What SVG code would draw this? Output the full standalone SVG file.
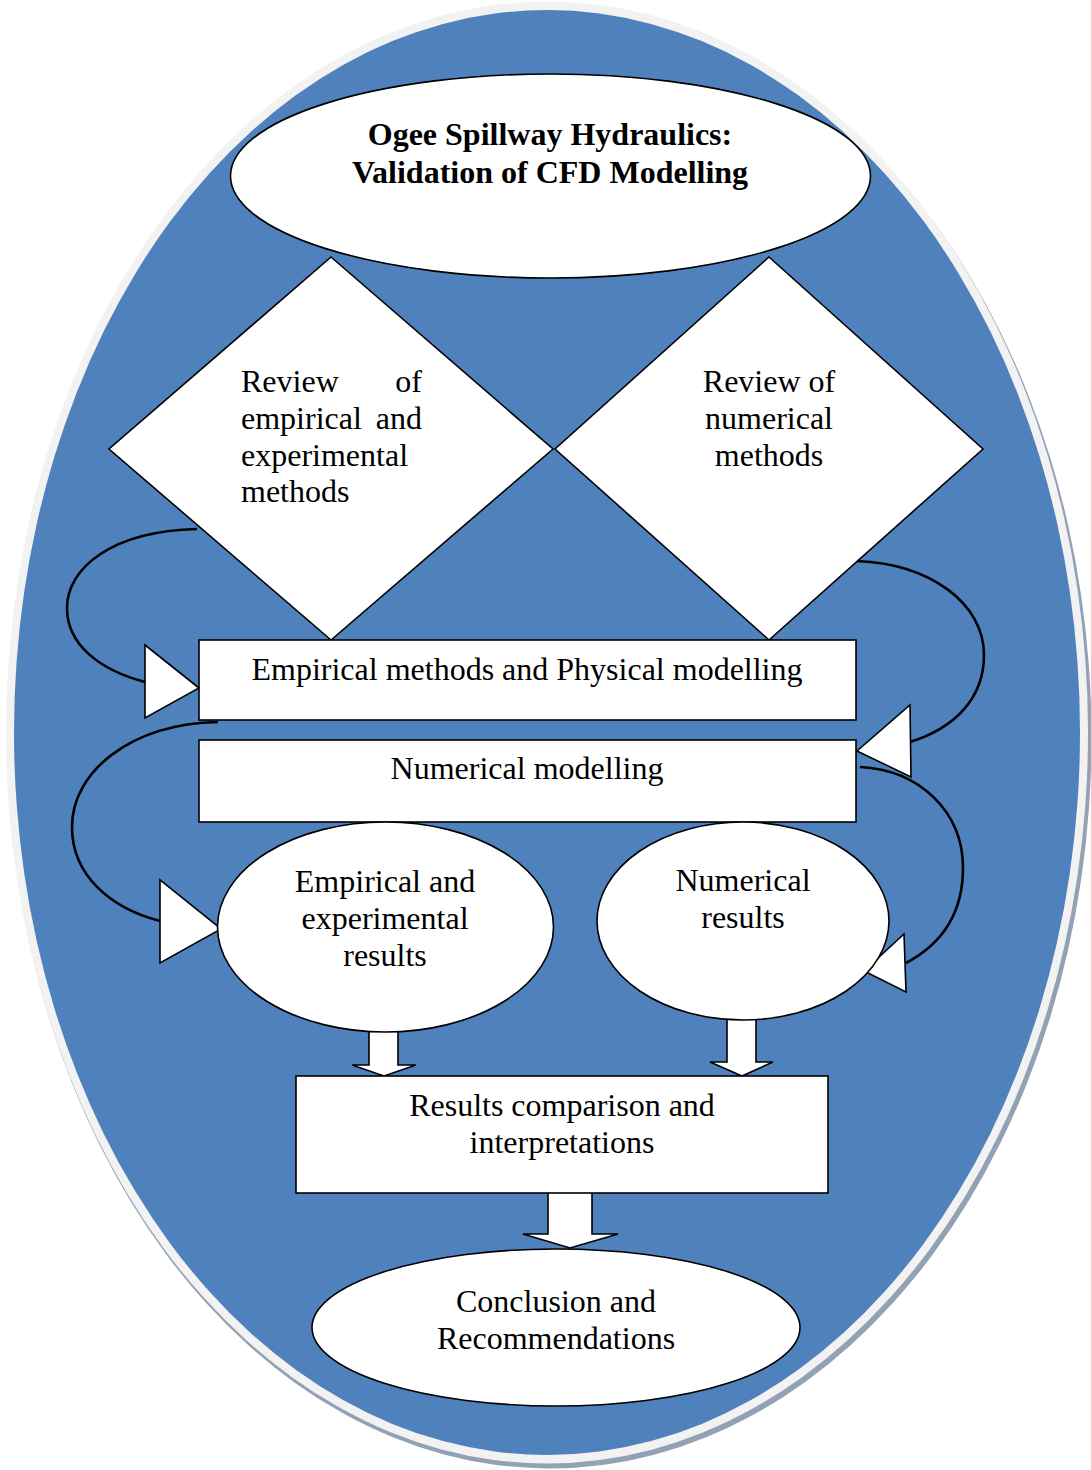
<svg xmlns="http://www.w3.org/2000/svg" width="1091" height="1470" viewBox="0 0 1091 1470">
<style>
.sh{fill:#fff;stroke:#000;stroke-width:1.6}
.t{font-family:"Liberation Serif","Times New Roman",serif;font-size:32px;fill:#000}
.c{text-anchor:middle}
.b{font-weight:bold}
.cv{fill:none;stroke:#000;stroke-width:2.6}
.hd{fill:#fff;stroke:#000;stroke-width:1.6;stroke-linejoin:miter}
</style>
<rect width="1091" height="1470" fill="#fff"/>
<g id="background">
<ellipse cx="549.5" cy="737.5" rx="542" ry="731" fill="#93a1b5"/>
<ellipse cx="547" cy="732.5" rx="541" ry="731" fill="#f2f2f2"/>
<ellipse cx="547" cy="732.5" rx="533" ry="722.5" fill="#4f81bd"/>
</g>
<g id="review-empirical">
<polygon class="sh" points="331,257 553,449 331,640 109,449"/>
<text class="t" x="241" y="392">Review</text><text class="t" x="422" y="392" text-anchor="end">of</text>
<text class="t" x="241" y="429">empirical</text><text class="t" x="422" y="429" text-anchor="end">and</text>
<text class="t" x="241" y="466">experimental</text>
<text class="t" x="241" y="502">methods</text>
</g>
<g id="review-numerical">
<polygon class="sh" points="769,257 983,449 769,640 555,449"/>
<text class="t c" x="769" y="392">Review of</text>
<text class="t c" x="769" y="429">numerical</text>
<text class="t c" x="769" y="466">methods</text>
</g>
<g id="title">
<ellipse class="sh" cx="550.5" cy="176" rx="320" ry="102"/>
<text class="t c b" x="550" y="145">Ogee Spillway Hydraulics:</text>
<text class="t c b" x="550" y="183">Validation of CFD Modelling</text>
</g>
<g id="empirical-modelling">
<rect class="sh" x="199" y="640" width="657" height="80"/>
<text class="t c" x="527" y="680">Empirical methods and Physical modelling</text>
</g>
<g id="numerical-modelling">
<rect class="sh" x="199" y="740" width="657" height="82"/>
<text class="t c" x="527" y="779">Numerical modelling</text>
</g>
<g id="connectors">
<path class="hd" d="M369,1020 H398 V1065 H416 L384,1076 L352,1065 H369 Z"/>
<path class="hd" d="M727,1010 H756 V1062 H773 L742,1076 L710,1062 H727 Z"/>
<path class="hd" d="M548,1190 H592 V1234 H618 L570,1248 L523,1234 H548 Z"/>
<path class="cv" d="M197,529 C112,531 67,568 67,608 C67,645 100,670 145,682"/>
<polygon class="hd" points="145,645 145,718 199,688"/>
<path class="cv" d="M218,722 C130,724 72,772 72,827 C72,875 110,908 160,921"/>
<polygon class="hd" points="160,880 160,963 221,929"/>
<path class="cv" d="M857,561 C930,564 984,603 984,655 C984,698 955,728 910,742"/>
<polygon class="hd" points="910,705 911,777 857,751"/>
<path class="cv" d="M860,767 C920,770 963,812 963,868 C963,915 940,945 906,963"/>
<polygon class="hd" points="904,934 906,992 864,971"/>
</g>
<g id="empirical-results">
<ellipse class="sh" cx="385.5" cy="927" rx="168" ry="105"/>
<text class="t c" x="385" y="892">Empirical and</text>
<text class="t c" x="385" y="929">experimental</text>
<text class="t c" x="385" y="966">results</text>
</g>
<g id="numerical-results">
<ellipse class="sh" cx="743" cy="921" rx="146" ry="99"/>
<text class="t c" x="743" y="891">Numerical</text>
<text class="t c" x="743" y="928">results</text>
</g>
<g id="comparison">
<rect class="sh" x="296" y="1076" width="532" height="117"/>
<text class="t c" x="562" y="1116">Results comparison and</text>
<text class="t c" x="562" y="1153">interpretations</text>
</g>
<g id="conclusion">
<ellipse class="sh" cx="556" cy="1327.5" rx="244" ry="78.5"/>
<text class="t c" x="556" y="1312">Conclusion and</text>
<text class="t c" x="556" y="1349">Recommendations</text>
</g>
</svg>
